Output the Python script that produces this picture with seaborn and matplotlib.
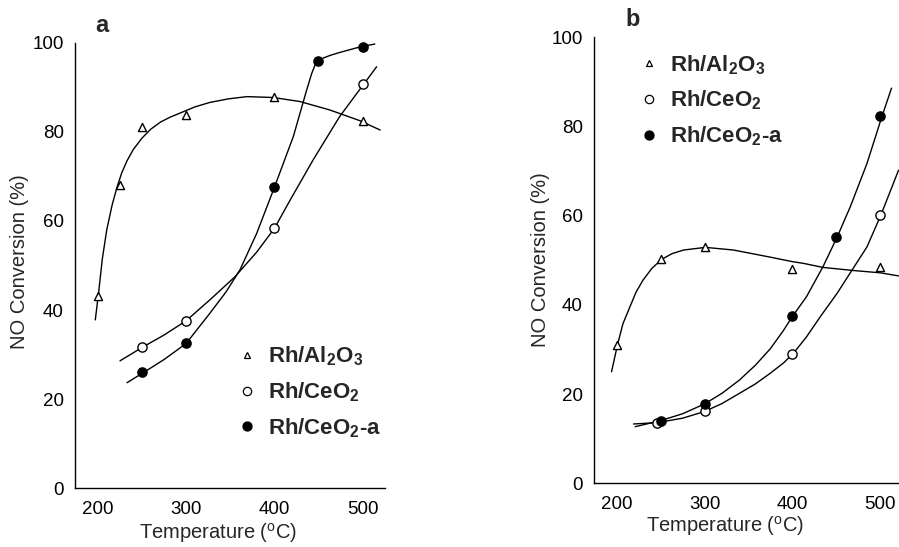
import matplotlib
matplotlib.use("Agg")
import matplotlib.pyplot as plt
import seaborn as sns
import pandas as pd
from matplotlib.lines import Line2D
from matplotlib.font_manager import FontProperties

# ---------------- data ----------------
# Panel a : measured points
A_T_AL = [200, 225, 250, 300, 400, 500]
A_V_AL = [43.2, 68.0, 81.0, 83.8, 87.9, 82.4]
A_T_CE = [250, 300, 400, 500]
A_V_CE = [31.6, 37.6, 58.4, 90.7]
A_T_CEA = [250, 300, 400, 450, 500]
A_V_CEA = [26.0, 32.6, 67.6, 95.8, 99.1]
# Panel a : hand-drawn trend curves
A_CT_AL = [197, 200.7, 205, 210, 216, 221.5, 227, 233, 240, 250, 260, 271, 282, 293, 310, 327, 348, 369, 399, 429, 463, 497, 520]
A_CV_AL = [37.8, 43.8, 51.5, 58.0, 63.5, 67.5, 70.8, 73.5, 76.0, 78.6, 80.6, 82.2, 83.3, 84.2, 85.6, 86.6, 87.4, 87.9, 87.7, 86.8, 84.9, 82.5, 80.4]
A_CT_CE = [225, 250, 275, 300, 327, 355, 380, 400, 418, 444, 474, 516]
A_CV_CE = [28.6, 31.6, 34.4, 37.6, 42.3, 47.4, 53.0, 58.3, 64.7, 73.7, 83.4, 94.6]
A_CT_CEA = [233, 251, 275, 300, 327, 345, 361, 380, 400, 421.5, 436.7, 442.4, 446, 450, 456, 464, 474, 498, 514]
A_CV_CEA = [23.7, 25.9, 28.9, 32.5, 39.3, 44.0, 49.0, 57.2, 67.5, 78.9, 89.4, 93.1, 94.9, 95.9, 96.6, 97.2, 97.8, 99.1, 99.7]

# Panel b : measured points
B_T_AL = [200, 250, 300, 400, 500]
B_V_AL = [31.1, 50.3, 52.9, 48.0, 48.5]
B_T_CE = [246, 300, 400, 500]
B_V_CE = [13.5, 16.1, 29.1, 60.2]
B_T_CEA = [250, 300, 400, 450, 500]
B_V_CEA = [13.9, 17.7, 37.4, 55.2, 82.3]
# Panel b : trend curves
B_CT_AL = [194, 200.7, 207, 215, 222, 230, 240, 251, 263, 276, 301, 333, 375, 400, 413, 435, 470, 500, 521]
B_CV_AL = [25.0, 31.0, 35.8, 39.6, 42.9, 45.6, 48.2, 50.2, 51.5, 52.3, 52.9, 52.3, 50.7, 49.7, 49.3, 48.4, 47.7, 47.2, 46.5]
B_CT_CE = [219, 246, 275, 300, 320, 340, 358, 375, 390, 401, 416, 432, 451, 468, 485, 501, 521]
B_CV_CE = [13.3, 13.6, 14.6, 16.1, 17.9, 20.2, 22.3, 24.7, 27.0, 29.1, 32.8, 37.4, 42.6, 47.8, 53.0, 60.2, 70.2]
B_CT_CEA = [221, 249, 275, 300, 320, 340, 358, 375, 390, 400, 416, 435, 451, 466, 485, 502, 513]
B_CV_CEA = [12.7, 14.0, 15.6, 17.8, 20.2, 23.2, 26.5, 30.2, 34.3, 37.4, 41.8, 48.6, 55.2, 62.0, 71.7, 82.2, 88.6]

SERIES = ["Rh/Al$_\\mathbf{2}$O$_\\mathbf{3}$", "Rh/CeO$_\\mathbf{2}$", "Rh/CeO$_\\mathbf{2}$-a"]
X_TICKS = [200, 250, 300, 350, 400, 450, 500, 525]
X_LABELS = ["200", "", "300", "", "400", "", "500", ""]
Y_TICKS = [0, 20, 40, 60, 80, 100]

# ---------------- style ----------------
sns.set_style("white")
plt.rcParams["font.family"] = ["Liberation Sans", "DejaVu Sans"]
plt.rcParams["mathtext.fontset"] = "custom"
plt.rcParams["mathtext.rm"] = "Liberation Sans"
plt.rcParams["mathtext.bf"] = "Liberation Sans:bold"
plt.rcParams["mathtext.it"] = "Liberation Sans:italic"

fig = plt.figure(figsize=(8.99, 5.47), dpi=100)
W, H = 899.0, 547.0

def make_axes(x0, x1, ytop, ybot):
    return fig.add_axes([x0 / W, (H - ybot) / H, (x1 - x0) / W, (ybot - ytop) / H])

axA = make_axes(75, 385, 42.7, 488.3)
axB = make_axes(594, 902.5, 37.3, 483.3)

STYLES = [
    dict(marker="^", fc="white", s=34),
    dict(marker="o", fc="white", s=44),
    dict(marker="o", fc="black", s=44),
]

def draw_panel(ax, curves, points):
    for (ct, cv) in curves:
        df = pd.DataFrame({"T": ct, "V": cv})
        sns.lineplot(data=df, x="T", y="V", ax=ax, color="black", lw=1.0,
                     estimator=None, sort=False, legend=False)
    for (pt, pv), st in zip(points, STYLES):
        df = pd.DataFrame({"T": pt, "V": pv})
        sns.scatterplot(data=df, x="T", y="V", ax=ax, marker=st["marker"], s=st["s"],
                        facecolor=st["fc"], edgecolor="black", linewidth=1.0,
                        zorder=5, clip_on=False, legend=False)
    ax.set_xlim(174, 525.5)
    ax.set_ylim(0, 100)
    ax.set_xticks(X_TICKS)
    ax.set_xticklabels(X_LABELS)
    ax.set_yticks(Y_TICKS)
    ax.set_yticklabels([str(v) for v in Y_TICKS])
    for s in ["top", "right"]:
        ax.spines[s].set_visible(False)
    for s in ["left", "bottom"]:
        ax.spines[s].set_linewidth(1.0)
        ax.spines[s].set_color("black")
    ax.tick_params(axis="x", direction="in", length=5.5, width=1.0, pad=9, labelsize=13.5, colors="black")
    ax.tick_params(axis="y", direction="in", length=4.8, width=1.0, pad=8, labelsize=13.5, colors="black")
    ax.set_xlabel("Temperature ($^{\\mathrm{o}}$C)", fontsize=14.5)
    ax.set_ylabel("NO Conversion (%)", fontsize=14.5)
    ax.set_facecolor("white")

draw_panel(axA, [(A_CT_AL, A_CV_AL), (A_CT_CE, A_CV_CE), (A_CT_CEA, A_CV_CEA)],
           [(A_T_AL, A_V_AL), (A_T_CE, A_V_CE), (A_T_CEA, A_V_CEA)])
draw_panel(axB, [(B_CT_AL, B_CV_AL), (B_CT_CE, B_CV_CE), (B_CT_CEA, B_CV_CEA)],
           [(B_T_AL, B_V_AL), (B_T_CE, B_V_CE), (B_T_CEA, B_V_CEA)])

# axis label positions (pixel-measured)
axA.xaxis.set_label_coords((218 - 75) / 310, -(533 - 488.3) / 445.6)
axA.yaxis.set_label_coords(-(75 - 20) / 310, (488.3 - 262) / 445.6)
axB.xaxis.set_label_coords((725 - 594) / 308.5, -(526 - 483.3) / 446)
axB.yaxis.set_label_coords(-(594 - 540) / 308.5, (483.3 - 260) / 446)
for ax in (axA, axB):
    ax.xaxis.label.set_va("center")
    ax.yaxis.label.set_va("center")

# legends
handles = [
    Line2D([], [], ls="none", marker="^", mfc="white", mec="black", mew=0.9, ms=5),
    Line2D([], [], ls="none", marker="o", mfc="white", mec="black", mew=0.9, ms=6),
    Line2D([], [], ls="none", marker="o", mfc="black", mec="black", mew=0.9, ms=6.5),
]
lp = FontProperties(family="Liberation Sans", weight="bold", size=16)
for ax, anchor in [(axA, ((238 - 75) / 310, (488.3 - 344.5) / 445.6)),
                   (axB, ((640 - 594) / 308.5, (483.3 - 53) / 446))]:
    ax.legend(handles, SERIES, loc="upper left", bbox_to_anchor=anchor, frameon=False,
              prop=lp, handlelength=0.8, handletextpad=0.55, labelspacing=0.55,
              borderaxespad=0, borderpad=0)

# panel letters
fig.text(101.7 / W, 1 - 26 / H, "a", fontsize=17, fontweight="bold", ha="center", va="center")
fig.text(633 / W, 1 - 20 / H, "b", fontsize=17, fontweight="bold", ha="center", va="center")

fig.savefig("out.png", dpi=100, facecolor="white")
